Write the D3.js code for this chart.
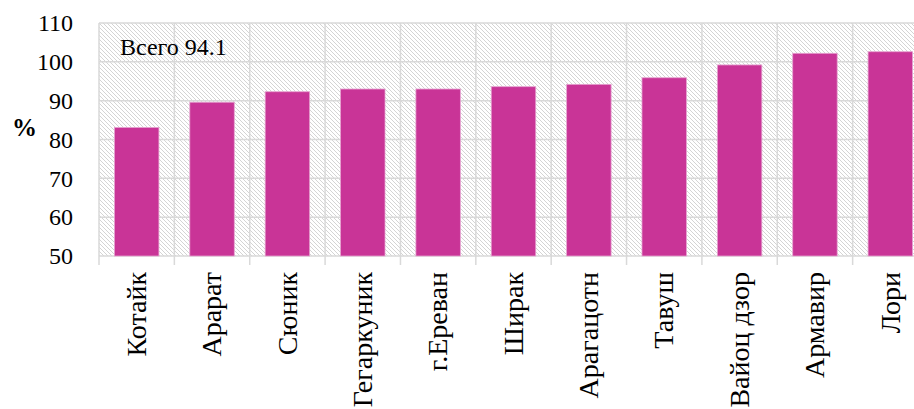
<!DOCTYPE html>
<html><head><meta charset="utf-8">
<script src="https://cdn.jsdelivr.net/npm/d3@7"></script>
<style>html,body{margin:0;padding:0;background:#fff;overflow:hidden}</style>
</head><body>
<svg id="c" width="914" height="409" font-family="Liberation Serif"></svg>
<script>
const categories = ["Котайк","Арарат","Сюник","Гегаркуник","г.Ереван","Ширак","Арагацотн","Тавуш","Вайоц дзор","Армавир","Лори"];
const values = [83.1, 89.6, 92.3, 93.0, 93.0, 93.6, 94.2, 95.9, 99.2, 102.2, 102.6];
const yTicks = [50, 60, 70, 80, 90, 100, 110];
const totalLabel = "Всего 94.1";
const yLabel = "%";

(function(){
const FONT = "Liberation Serif";
const svg = d3.select("#c");
const pL = 99, pR = 928, pT = 23, pB = 256;
const x = d3.scaleBand().domain(categories).range([pL, pR]).paddingInner(0.41).paddingOuter(0.205);
const xb = d3.scaleBand().domain(categories).range([pL, pR]);
const y = d3.scaleLinear().domain([50, 110]).range([pB, pT]);

const defs = svg.append("defs");
const pat = defs.append("pattern").attr("id","hatch").attr("patternUnits","userSpaceOnUse")
  .attr("width",4).attr("height",4);
pat.append("rect").attr("width",4).attr("height",4).attr("fill","#fff");
pat.append("path").attr("d","M-1,-1 L5,5 M-1,3 L1,5 M3,-1 L5,1").attr("stroke","#d4d4d4").attr("stroke-width",1);

svg.append("rect").attr("x",pL).attr("y",pT).attr("width",pR-pL).attr("height",pB-pT).attr("fill","url(#hatch)");

svg.append("g").selectAll("line").data(yTicks).join("line")
  .attr("x1",pL).attr("x2",pR).attr("y1",d=>y(d)).attr("y2",d=>y(d))
  .attr("stroke","#d9d9d9").attr("stroke-width",1.5);
const seps = categories.map(c=>xb(c)).concat([pR]);
svg.append("g").selectAll("line").data(seps).join("line")
  .attr("x1",d=>d).attr("x2",d=>d).attr("y1",pT).attr("y2",pB+9)
  .attr("stroke","#d9d9d9").attr("stroke-width",1.5);

svg.append("g").selectAll("rect").data(values).join("rect")
  .attr("x",(d,i)=>x(categories[i])).attr("width",x.bandwidth())
  .attr("y",d=>y(d)).attr("height",d=>pB-y(d))
  .attr("fill","#C93497").attr("stroke","#e6a3d0").attr("stroke-width",0.8);

// y tick labels drawn as plain text from the scale
svg.append("g").selectAll("text").data(yTicks).join("text")
  .attr("transform",d=>`translate(73,${y(d)})`)
  .attr("text-anchor","end").attr("dy","0.34em")
  .attr("font-family","Times New Roman").attr("font-size",24).attr("fill","#000")
  .text(d=>d);

const xAxis = d3.axisBottom(xb).tickSize(0).tickPadding(0);
const xa = svg.append("g").attr("transform",`translate(0,${pB})`).call(xAxis)
  .attr("font-family",FONT).attr("font-size",28);
xa.select(".domain").remove();
xa.selectAll("text").attr("fill","#000")
  .attr("text-anchor","end").attr("transform","rotate(-90)").attr("x",-16).attr("y",0).attr("dy","0.33em");

svg.append("text").attr("transform","translate(12,136)").attr("font-family","Times New Roman")
  .attr("font-weight","bold").attr("font-size",25).text(yLabel);
svg.append("text").attr("transform","translate(120,55)").attr("font-family","Times New Roman")
  .attr("font-size",24).text(totalLabel);
})();
</script>
</body></html>
